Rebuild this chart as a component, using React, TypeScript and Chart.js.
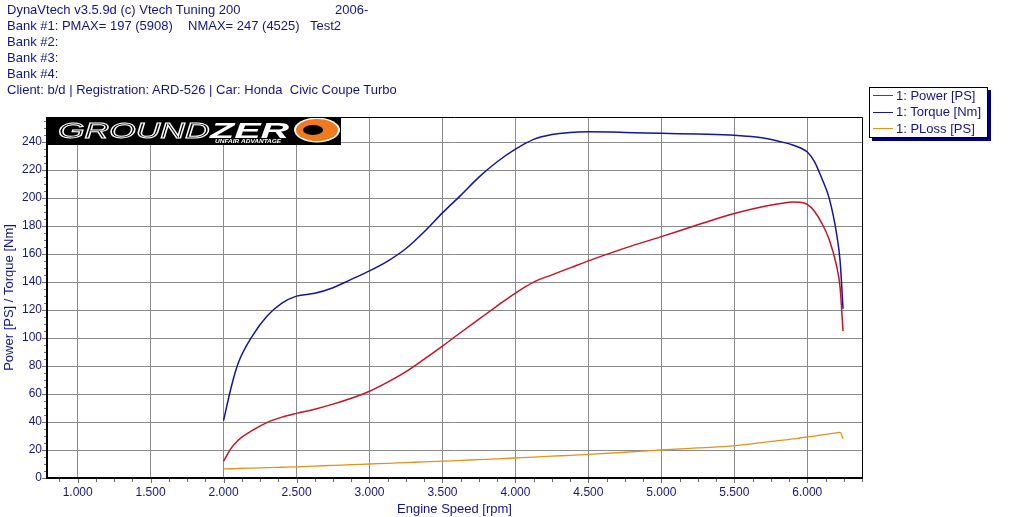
import React, { useEffect, useRef } from 'react';
import { Chart, registerables } from 'chart.js';

Chart.register(...registerables);

// ---------- data ----------
const rpm = [
  2000, 2050, 2100, 2200, 2300, 2400, 2500, 2625, 2750, 2875, 3000, 3125, 3250, 3375, 3500,
  3625, 3750, 3875, 4000, 4125, 4250, 4375, 4500, 4750, 5000, 5250, 5500, 5700, 5850, 5900,
  5950, 6000, 6050, 6100, 6150, 6200, 6225, 6245,
];
const powerPS = [
  12, 21, 27, 34.2, 39.8, 43.5, 46.2, 49.2, 52.8, 57, 62, 68.5, 76, 85, 94.3,
  104, 113.5, 123, 132.2, 140, 145.2, 150.2, 155.2, 164.3, 172.5, 181, 189, 194, 196.8, 197.2,
  197, 195.5, 190.5, 182, 170.5, 152, 136, 105,
];
const torqueNm = [
  41, 64, 82, 102, 116, 125, 130, 132, 136, 142, 148, 155, 164, 176, 189.5,
  202, 215, 226, 235, 242, 245.5, 247, 247.4, 247, 246.3, 245.8, 245, 243, 239.5, 238,
  236, 233, 226, 214, 200, 175, 155, 121,
];
const plossPS = [
  6.5, 6.6, 6.8, 7.1, 7.4, 7.7, 8.0, 8.5, 9.0, 9.5, 10.0, 10.5, 11.0, 11.5, 12.0,
  12.6, 13.1, 13.7, 14.3, 14.9, 15.6, 16.2, 16.9, 18.4, 20.0, 21.5, 23.0, 25.5, 27.3, 27.9,
  28.6, 29.3, 30.0, 30.8, 31.5, 32.3, 32.6, 28.0,
];

const xTicks = [1000, 1500, 2000, 2500, 3000, 3500, 4000, 4500, 5000, 5500, 6000];
const yTicks = [0, 20, 40, 60, 80, 100, 120, 140, 160, 180, 200, 220, 240];
const X_MIN = 790;
const X_MAX = 6375;
const Y_MIN = 0;
const Y_MAX = 258;
const X_MINOR_STEP = 125;
const Y_MINOR_STEP = 5;

const seriesNames = ['1: Power [PS]', '1: Torque [Nm]', '1: PLoss [PS]'];
const seriesColors = ['#cc1122', '#1414a8', '#e8901c'];

const headerLine1 = 'DynaVtech v3.5.9d (c) Vtech Tuning 200';
const headerYear = '2006-';
const headerBank1 = 'Bank #1: PMAX= 197 (5908)';
const headerNmax = 'NMAX= 247 (4525)';
const headerTest = 'Test2';
const headerBanks = ['Bank #2:', 'Bank #3:', 'Bank #4:'];
const headerClient = 'Client: b/d | Registration: ARD-526 | Car: Honda  Civic Coupe Turbo';

const xTitle = 'Engine Speed [rpm]';
const yTitle = 'Power [PS] / Torque [Nm]';

const TEXT_COLOR = '#14148c';
const FONT = "'Liberation Sans', Arial, sans-serif";

const fmtRpm = (v: number) => `${Math.floor(v / 1000)}.${String(v % 1000).padStart(3, '0')}`;

const decorPlugin = {
  id: 'decor',
  beforeDatasetsDraw(chart: any) {
    const { ctx, chartArea } = chart;
    const { left, top } = chartArea;
    ctx.save();
    // logo block
    ctx.fillStyle = '#000';
    ctx.fillRect(left + 1, top + 1, 293, 27);
    ctx.save();
    ctx.translate(left + 11, top + 21);
    ctx.scale(1.55, 1);
    ctx.font = `italic 22px ${FONT}`;
    ctx.strokeStyle = '#fff';
    ctx.lineWidth = 1;
    ctx.strokeText('GROUND', 0, 0);
    ctx.restore();
    ctx.save();
    ctx.translate(left + 163, top + 21);
    ctx.scale(1.8, 1);
    ctx.font = `italic bold 22px ${FONT}`;
    ctx.fillStyle = '#fff';
    ctx.fillText('ZER', 0, 0);
    ctx.restore();
    // O ring
    const cx = left + 270;
    const cy = top + 13;
    ctx.fillStyle = '#fff';
    ctx.beginPath();
    ctx.ellipse(cx, cy, 23, 12.5, 0, 0, Math.PI * 2);
    ctx.fill();
    ctx.fillStyle = '#f07a1e';
    ctx.beginPath();
    ctx.ellipse(cx, cy, 21, 11, 0, 0, Math.PI * 2);
    ctx.fill();
    ctx.fillStyle = '#000';
    ctx.beginPath();
    ctx.ellipse(cx - 4, cy, 10, 5, 0, 0, Math.PI * 2);
    ctx.fill();
    // tagline
    ctx.save();
    ctx.translate(left + 168, top + 26);
    ctx.scale(1.3, 1);
    ctx.font = `italic bold 5px ${FONT}`;
    ctx.fillStyle = '#fff';
    ctx.fillText('UNFAIR ADVANTAGE', 0, 0);
    ctx.restore();
    ctx.restore();
  },
  afterDatasetsDraw(chart: any) {
    const { ctx, chartArea, scales } = chart;
    const { left, right, top, bottom } = chartArea;
    const x = scales.x;
    const y = scales.y;
    ctx.save();
    // tick marks
    ctx.strokeStyle = '#707070';
    ctx.lineWidth = 1;
    ctx.beginPath();
    for (let v = Math.ceil(X_MIN / X_MINOR_STEP) * X_MINOR_STEP; v <= X_MAX; v += X_MINOR_STEP) {
      const px = Math.round(x.getPixelForValue(v)) + 0.5;
      const len = v % 500 === 0 ? 5 : 4;
      ctx.moveTo(px, bottom);
      ctx.lineTo(px, bottom + len);
    }
    for (let v = Y_MIN; v <= Y_MAX; v += Y_MINOR_STEP) {
      const py = Math.round(y.getPixelForValue(v)) + 0.5;
      const len = v % 20 === 0 ? 5 : 3;
      ctx.moveTo(left - len, py);
      ctx.lineTo(left, py);
    }
    ctx.stroke();
    // frame
    ctx.strokeStyle = '#000';
    ctx.lineWidth = 1;
    ctx.beginPath();
    ctx.moveTo(left, top + 0.5);
    ctx.lineTo(right + 0.5, top + 0.5);
    ctx.lineTo(right + 0.5, bottom);
    ctx.stroke();
    ctx.fillStyle = '#000';
    ctx.fillRect(left - 1, top, 2, bottom - top + 1);
    ctx.fillRect(left - 1, bottom - 1, right - left + 2, 2);
    ctx.restore();
  },
};

export default function App() {
  const canvasRef = useRef<HTMLCanvasElement | null>(null);

  useEffect(() => {
    const canvas = canvasRef.current;
    if (!canvas) return;
    const mk = (vals: number[]) => rpm.map((r, i) => ({ x: r, y: vals[i] }));
    const chart = new Chart(canvas, {
      type: 'line',
      data: {
        datasets: [
          { label: seriesNames[2], data: mk(plossPS), borderColor: seriesColors[2], borderWidth: 1.3 },
          { label: seriesNames[0], data: mk(powerPS), borderColor: seriesColors[0], borderWidth: 1.5 },
          { label: seriesNames[1], data: mk(torqueNm), borderColor: seriesColors[1], borderWidth: 1.5 },
        ],
      },
      options: {
        animation: false,
        responsive: false,
        devicePixelRatio: 1,
        layout: { padding: { left: 0, right: 148, top: 117, bottom: 0 } },
        elements: {
          point: { radius: 0 },
          line: { cubicInterpolationMode: 'monotone', fill: false },
        },
        plugins: { legend: { display: false }, tooltip: { enabled: false }, title: { display: false } },
        scales: {
          x: {
            type: 'linear',
            min: X_MIN,
            max: X_MAX,
            afterBuildTicks: (s: any) => {
              s.ticks = xTicks.map((v) => ({ value: v }));
            },
            afterFit: (s: any) => {
              s.height = 39;
            },
            grid: { color: '#8a8a8a', lineWidth: 1, drawTicks: false },
            border: { display: false },
            ticks: {
              color: TEXT_COLOR,
              font: { family: FONT, size: 12 },
              padding: 7,
              maxRotation: 0,
              autoSkip: false,
              callback: (v: any) => fmtRpm(Number(v)),
            },
            title: {
              display: true,
              text: xTitle,
              color: TEXT_COLOR,
              font: { family: FONT, size: 13 },
              padding: { top: 0, bottom: 0 },
            },
          },
          y: {
            type: 'linear',
            min: Y_MIN,
            max: Y_MAX,
            afterBuildTicks: (s: any) => {
              s.ticks = yTicks.map((v) => ({ value: v }));
            },
            afterFit: (s: any) => {
              s.width = 47;
            },
            grid: { color: '#8a8a8a', lineWidth: 1, drawTicks: false },
            border: { display: false },
            ticks: {
              color: TEXT_COLOR,
              font: { family: FONT, size: 12 },
              padding: 5,
              autoSkip: false,
            },
            title: {
              display: true,
              text: yTitle,
              color: TEXT_COLOR,
              font: { family: FONT, size: 13 },
              padding: { top: 2, bottom: 0 },
            },
          },
        },
      } as any,
      plugins: [decorPlugin],
    });
    return () => chart.destroy();
  }, []);

  const txt = (s: string, left: number, top: number, key?: string) => (
    <div
      key={key}
      style={{
        position: 'absolute',
        left,
        top,
        whiteSpace: 'pre',
        fontFamily: FONT,
        fontSize: 13,
        lineHeight: '16px',
        color: TEXT_COLOR,
      }}
    >
      {s}
    </div>
  );

  return (
    <div style={{ position: 'fixed', left: 0, top: 0, width: 1010, height: 517, background: '#fff', overflow: 'hidden' }}>
      <canvas ref={canvasRef} width={1010} height={517} style={{ position: 'absolute', left: 0, top: 0, width: 1010, height: 517 }} />
      {txt(headerLine1, 7, 2)}
      {txt(headerYear, 335, 2)}
      {txt(headerBank1, 7, 18)}
      {txt(headerNmax, 188, 18)}
      {txt(headerTest, 310, 18)}
      {headerBanks.map((b, i) => txt(b, 7, 34 + i * 16, 'b' + i))}
      {txt(headerClient, 7, 82)}
      <div
        style={{
          position: 'absolute',
          left: 869,
          top: 87,
          width: 117,
          height: 49,
          border: '1px solid #000',
          background: '#fff',
          boxShadow: '3px 3px 0 #00007f',
        }}
      />
      {seriesNames.map((n, i) => (
        <React.Fragment key={n}>
          <div
            style={{
              position: 'absolute',
              left: 873,
              top: 95 + i * 16.7,
              width: 20,
              height: 1,
              background: seriesColors[i],
            }}
          />
          {txt(n, 896, 87.5 + i * 16.5)}
        </React.Fragment>
      ))}
    </div>
  );
}
